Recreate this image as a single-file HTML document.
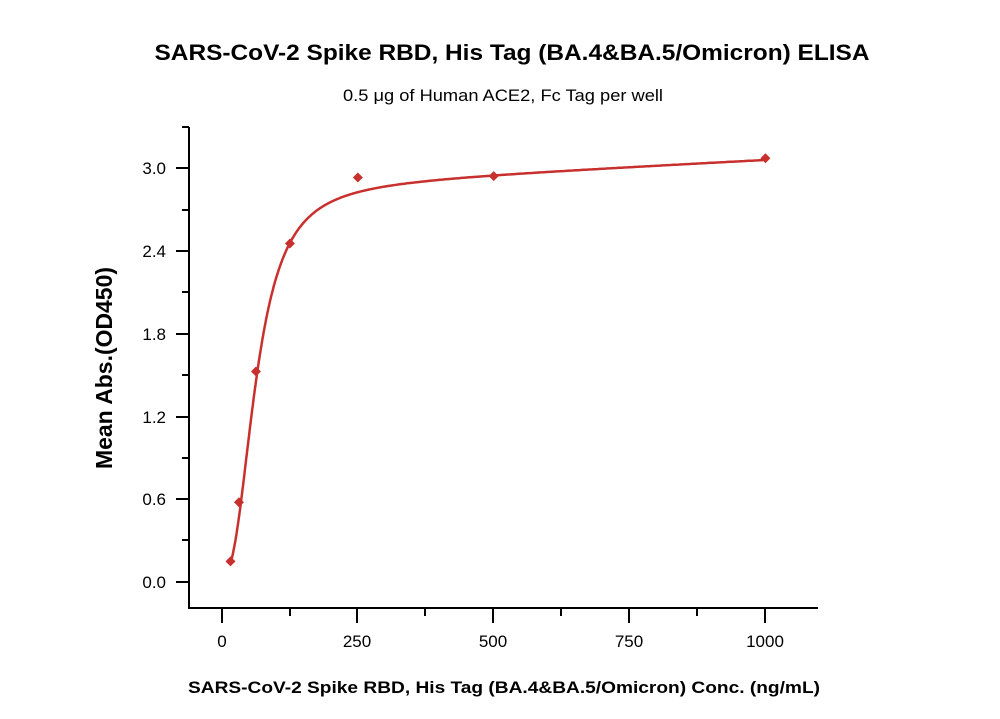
<!DOCTYPE html>
<html><head><meta charset="utf-8"><style>
body{margin:0;background:#fff;}
svg text{font-family:"Liberation Sans",sans-serif;}
</style></head><body>
<svg id="s" width="1000" height="714" xmlns="http://www.w3.org/2000/svg">
<text x="512" y="60" text-anchor="middle" font-size="22" font-weight="bold" fill="#000" textLength="715" lengthAdjust="spacingAndGlyphs">SARS-CoV-2 Spike RBD, His Tag (BA.4&amp;BA.5/Omicron) ELISA</text>
<text x="503" y="101" text-anchor="middle" font-size="17" fill="#000" textLength="320" lengthAdjust="spacingAndGlyphs">0.5 μg of Human ACE2, Fc Tag per well</text>
<g stroke="#000" stroke-width="2" fill="none">
<path d="M189,127V608H818"/>
<path d="M222,608v15M357,608v15M493,608v15M629,608v15M765,608v15M290,608v8M425,608v8M561,608v8M697,608v8"/>
<path d="M189,582h-13M189,499h-13M189,417h-13M189,334h-13M189,251h-13M189,168h-13M189,540h-7M189,458h-7M189,375h-7M189,292h-7M189,210h-7M189,127h-7"/>
</g>
<g font-size="17" fill="#000" text-anchor="end">
<text x="166" y="588">0.0</text><text x="166" y="505">0.6</text><text x="166" y="423">1.2</text><text x="166" y="340">1.8</text><text x="166" y="257">2.4</text><text x="166" y="174">3.0</text>
</g>
<g font-size="17" fill="#000" text-anchor="middle">
<text x="222" y="647">0</text><text x="357" y="647">250</text><text x="493" y="647">500</text><text x="629" y="647">750</text><text x="765" y="647">1000</text>
</g>
<text x="504" y="693" text-anchor="middle" font-size="17" font-weight="bold" textLength="632" lengthAdjust="spacingAndGlyphs">SARS-CoV-2 Spike RBD, His Tag (BA.4&amp;BA.5/Omicron) Conc. (ng/mL)</text>
<text transform="translate(112,368) rotate(-90)" text-anchor="middle" font-size="23" font-weight="bold" textLength="202" lengthAdjust="spacingAndGlyphs">Mean Abs.(OD450)</text>
<path id="c" fill="none" stroke="#c8302e" stroke-width="2.5"/>
<g id="p" fill="#c8302e"></g>
</svg>
<script>
var X=function(v){return 222+v*0.5434},Y=function(v){return 582-v*137.6};
var d="";for(var x=15.6;x<=1000;x+=(x<300?1:5)){var r=Math.pow(x/63,2.5);var y=0.05+2.82*r/(1+r)+0.0002*x;d+=(d?"L":"M")+X(x).toFixed(1)+","+Y(y).toFixed(1);}
document.getElementById("c").setAttribute("d",d);
var pts=[[15.6,0.15],[31.25,0.58],[62.5,1.53],[125,2.46],[250,2.94],[500,2.95],[1000,3.08]],g="";
pts.forEach(function(p){var x=X(p[0]),y=Y(p[1]);g+='<path d="M'+x+','+(y-5)+'l5,5l-5,5l-5,-5z"/>';});
document.getElementById("p").innerHTML=g;
</script>
</body></html>
